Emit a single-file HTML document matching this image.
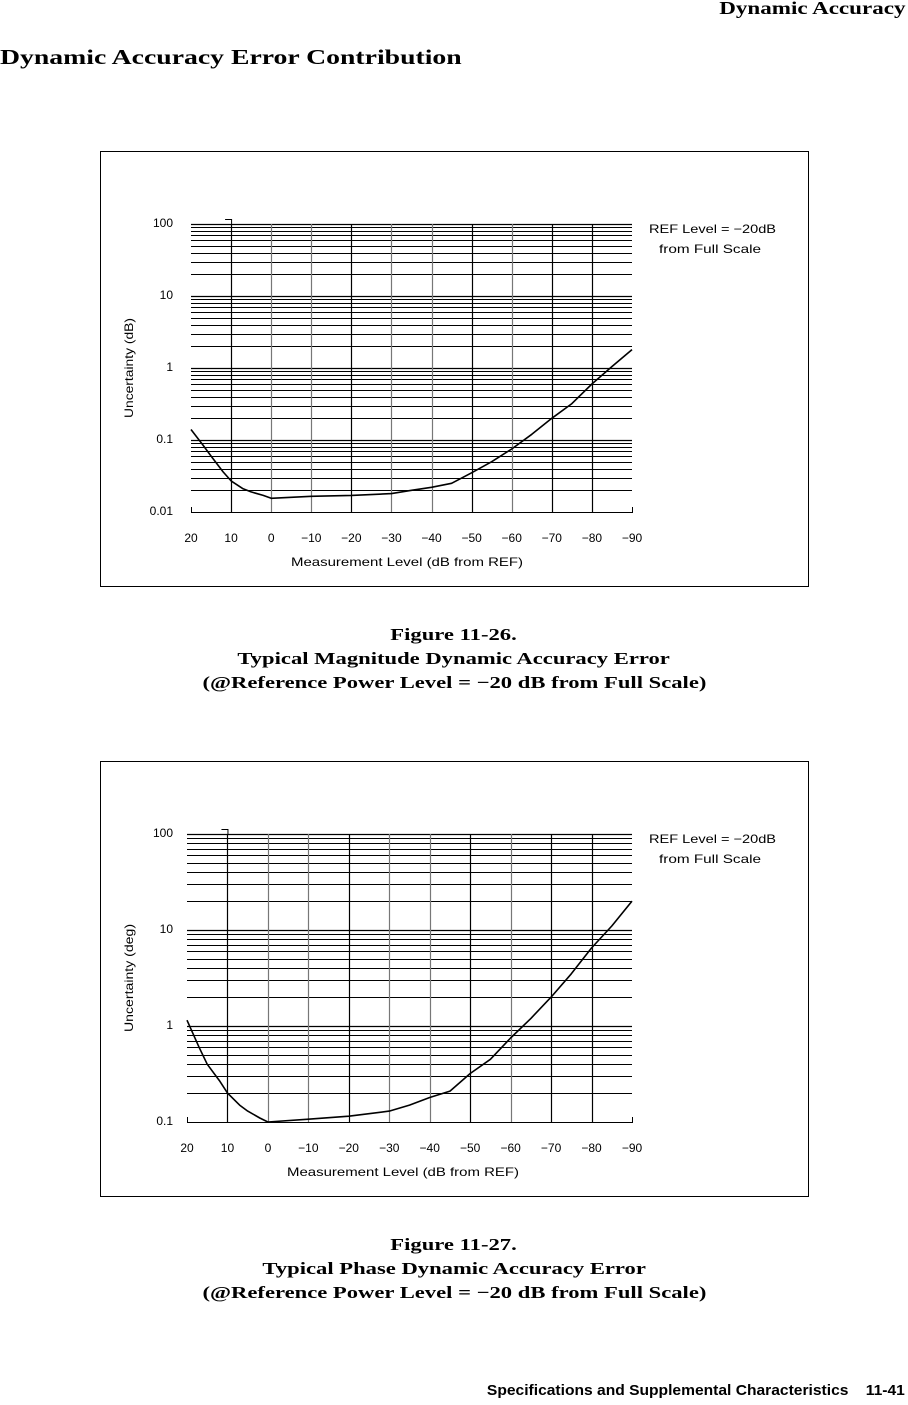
<!DOCTYPE html>
<html><head><meta charset="utf-8">
<style>
body{margin:0;width:908px;height:1405px;background:#fff;position:relative;overflow:hidden;font-family:"Liberation Serif",serif;color:#000}
.t{position:absolute;font-weight:bold;white-space:nowrap}
.cap{position:absolute;left:0;width:908px;text-align:center;font-weight:bold;font-size:17px;line-height:24px}
.cap span{display:inline-block;transform:scaleX(1.33)}
svg{position:absolute;left:0;top:0}
svg text{font-family:"Liberation Sans",sans-serif;font-size:12px;fill:#000}
</style></head><body>
<div class="t" style="right:3px;top:-2px;font-size:18px;transform:scaleX(1.28);transform-origin:right">Dynamic Accuracy</div>
<div class="t" style="left:0;top:45px;font-size:21px;transform:scaleX(1.32);transform-origin:left">Dynamic Accuracy Error Contribution</div>
<div class="cap" style="top:623px"><span>Figure 11-26.</span><br><span>Typical Magnitude Dynamic Accuracy Error</span><br><span>(@Reference Power Level = &minus;20 dB from Full Scale)</span></div>
<div class="cap" style="top:1233px"><span>Figure 11-27.</span><br><span>Typical Phase Dynamic Accuracy Error</span><br><span>(@Reference Power Level = &minus;20 dB from Full Scale)</span></div>
<div class="t" style="right:3px;top:1382px;font-family:'Liberation Sans',sans-serif;font-size:15px;transform:scaleX(1.04);transform-origin:right">Specifications and Supplemental Characteristics &nbsp;&nbsp; 11-41</div>
<svg id="s" width="908" height="1405"></svg>
<script>
const xCats=[20,10,0,-10,-20,-30,-40,-50,-60,-70,-80,-90];
const xLabels=["20","10","0","\u221210","\u221220","\u221230","\u221240","\u221250","\u221260","\u221270","\u221280","\u221290"];
const magX=[20,17,15,12,10,7,5,2,0,-10,-20,-30,-35,-40,-45,-50,-55,-60,-65,-70,-75,-80,-85,-90];
const magY=[0.14,0.085,0.06,0.036,0.027,0.021,0.019,0.017,0.0155,0.0165,0.017,0.018,0.02,0.022,0.025,0.035,0.05,0.075,0.12,0.2,0.32,0.6,1.05,1.8];
const phX=[20,17,15,12,10,7,5,2,0,-10,-20,-30,-35,-40,-45,-50,-55,-60,-65,-70,-75,-80,-85,-90];
const phY=[1.15,0.6,0.4,0.27,0.2,0.15,0.13,0.11,0.1,0.107,0.115,0.13,0.15,0.18,0.21,0.32,0.45,0.75,1.2,2,3.5,6.5,11,20];
const magTicks=["100","10","1","0.1","0.01"];
const phTicks=["100","10","1","0.1"];
const S=document.getElementById('s');const NS='http://www.w3.org/2000/svg';
function el(t,a,p){const e=document.createElementNS(NS,t);for(const k in a)e.setAttribute(k,a[k]);(p||S).appendChild(e);return e;}
function chart(o){
  const g=el('g',{});
  
  
  const box=el('rect',{x:100.5,y:o.by+.5,width:708,height:435,fill:'none',stroke:'#000'},g);
  
  
  const x0=o.x0,x1=632;
  const xs=v=>x0+(20-v)/110*(x1-x0);
  const lmax=2,lmin=o.lmin;
  const ys=v=>o.ytop+(lmax-Math.log10(v))/(lmax-lmin)*(o.ybot-o.ytop);
  for(let d=lmin;d<lmax;d++){for(let m=2;m<=10;m++){const v=m*Math.pow(10,d);const y=Math.round(ys(v))+.5;
    const l=el('line',{x1:x0,x2:x1,y1:y,y2:y,stroke:'#000','stroke-width':m==10?1.3:1},g);
    
    }}
  xCats.forEach((c,i)=>{const x=Math.round(xs(c))+.5;
    if(i>0&&i<11){const l=el('line',{x1:x,x2:x,y1:o.ytop,y2:o.ybot,stroke:[0,-10,-30,-40,-60].includes(c)?'#777':'#000','stroke-width':1.2},g);
      
      }
    const t=el('text',{x:xs(c),y:o.ybot+30,'text-anchor':'middle'},g);t.textContent=xLabels[i];
    
    });
  const ax=el('path',{d:`M${x0+.5} ${o.ybot-5}V${Math.round(o.ybot)+.5}H${x1+.5}V${o.ybot-5}`,fill:'none',stroke:'#000'},g);
  
  
  const tk=el('path',{d:`M${xs(10)-6} ${o.ytop-4.5}H${xs(10)+.5}V${o.ytop}`,fill:'none',stroke:'#000'},g);
  
  
  o.ticks.forEach((s,i)=>{const t=el('text',{x:173,y:ys(Math.pow(10,lmax-i))+3,'text-anchor':'end'},g);t.textContent=s;
    
    });
  const yt=el('text',{transform:`translate(133,${(o.ytop+o.ybot)/2}) rotate(-90)`,'text-anchor':'middle',textLength:o.ylen,lengthAdjust:'spacingAndGlyphs'},g);yt.textContent=o.ylab;
  
  
  const xt=el('text',{x:o.x0+100,y:o.ybot+54,textLength:232,lengthAdjust:'spacingAndGlyphs'},g);xt.textContent='Measurement Level (dB from REF)';
  
  
  const n1=el('text',{x:649,y:o.ytop+9,textLength:127,lengthAdjust:'spacingAndGlyphs'},g);n1.textContent='REF Level = \u221220dB';
  
  
  const n2=el('text',{x:659,y:o.ytop+29,textLength:102,lengthAdjust:'spacingAndGlyphs'},g);n2.textContent='from Full Scale';
  
  
  const pts=o.xv.map((x,i)=>xs(x).toFixed(1)+','+ys(o.yv[i]).toFixed(1)).join(' ');
  const pl=el('polyline',{points:pts,fill:'none',stroke:'#000','stroke-width':1.6,'stroke-linejoin':'round'},g);
  
  
}
chart({name:'magnitude-chart',by:151,x0:191,ytop:224,ybot:512,lmin:-2,ticks:magTicks,ylab:'Uncertainty (dB)',ylen:100,xv:magX,yv:magY});
chart({name:'phase-chart',by:761,x0:187,ytop:834,ybot:1122,lmin:-1,ticks:phTicks,ylab:'Uncertainty (deg)',ylen:108,xv:phX,yv:phY});
</script>
</body></html>
